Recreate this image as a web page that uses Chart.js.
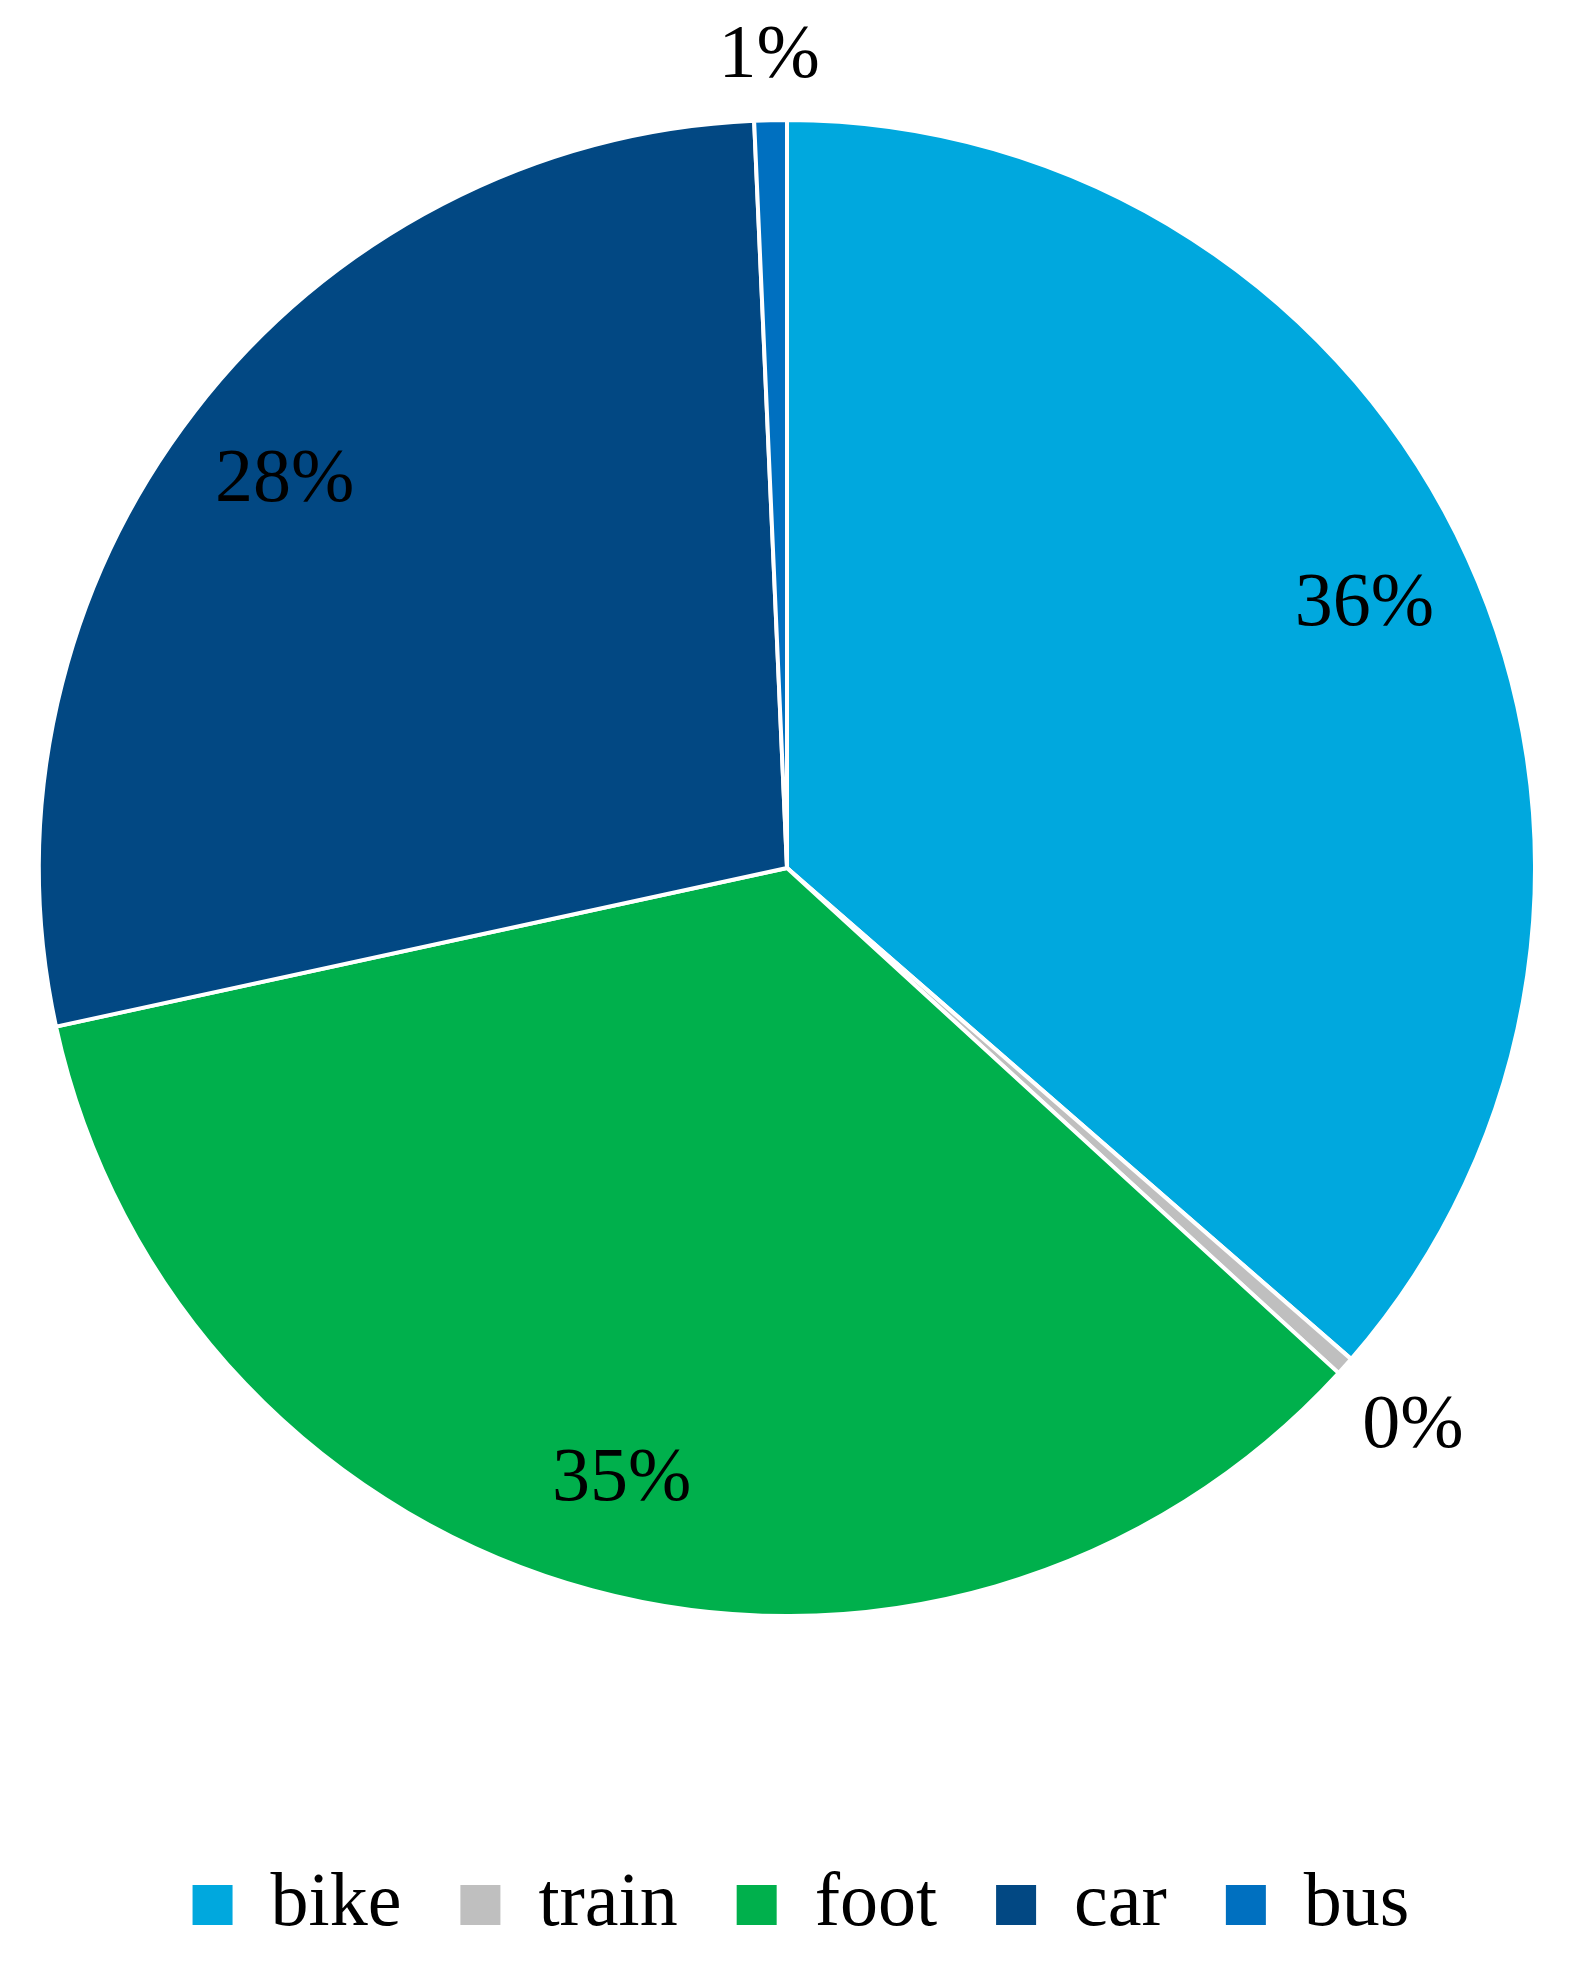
<!DOCTYPE html>
<html lang="en">
<head>
    <meta charset="UTF-8">
    <title>Travel mode share</title>
    <script src="https://cdn.jsdelivr.net/npm/chart.js"></script>
    <style>
        html, body { margin: 0; padding: 0; background: #ffffff; }
        #wrap { width: 1571px; height: 1970px; }
    </style>
</head>
<body>
    <div id="wrap">
        <canvas id="modeChart" width="1571" height="1970"></canvas>
    </div>

    <script>
        const modes = ['bike', 'train', 'foot', 'car', 'bus'];
        const shares = [36.4, 0.4, 34.8, 27.7, 0.7]; // percent
        const colors = ['#00A8DE', '#BFBFBF', '#00B04C', '#024883', '#0070C0'];

        const serif = '"Liberation Serif", "DejaVu Serif", serif';

        // percentage labels: big slices inside, slivers just outside the rim
        const sliceLabels = {
            id: 'sliceLabels',
            afterDatasetsDraw(chart) {
                const ctx = chart.ctx;
                const meta = chart.getDatasetMeta(0);
                const total = shares.reduce((a, b) => a + b, 0);
                ctx.save();
                ctx.font = '76px ' + serif;
                ctx.fillStyle = '#000000';
                ctx.textAlign = 'center';
                ctx.textBaseline = 'middle';
                meta.data.forEach((arc, i) => {
                    const p = arc.getProps(['x', 'y', 'startAngle', 'endAngle', 'outerRadius']);
                    const mid = (p.startAngle + p.endAngle) / 2;
                    const ux = Math.cos(mid), uy = Math.sin(mid);
                    const pct = shares[i] / total * 100;
                    const txt = Math.round(pct) + '%';
                    let d;
                    if (pct >= 5) {
                        d = p.outerRadius * 0.848;
                    } else {
                        // outside end: the text box sits just beyond the rim
                        const w = ctx.measureText(txt).width, h = 52;
                        d = p.outerRadius * 1.048 + Math.abs(ux) * w / 2 + Math.abs(uy) * h / 2;
                    }
                    ctx.fillText(txt, p.x + ux * d, p.y + uy * d);
                });
                ctx.restore();
            }
        };

        // push the legend row down towards the bottom of the page
        const legendShift = {
            id: 'legendShift',
            afterLayout(chart) {
                const lg = chart.legend;
                lg.top += 190; lg.bottom += 190;
                lg.left += 14; lg.right += 14;
            }
        };

        const ctx = document.getElementById('modeChart').getContext('2d');
        new Chart(ctx, {
            type: 'pie',
            data: {
                labels: modes,
                datasets: [{
                    data: shares,
                    backgroundColor: colors,
                    borderColor: '#ffffff',
                    borderWidth: 4
                }]
            },
            options: {
                responsive: false,
                animation: false,
                devicePixelRatio: 1,
                layout: { padding: { top: 118, left: 37, right: 34, bottom: 207 } },
                plugins: {
                    tooltip: { enabled: false },
                    legend: {
                        position: 'bottom',
                        labels: {
                            boxWidth: 40,
                            boxHeight: 40,
                            padding: 59,
                            color: '#000000',
                            font: { family: serif, size: 76 },
                            generateLabels: () => modes.map((m, i) => ({
                                text: m,
                                fillStyle: colors[i],
                                strokeStyle: colors[i],
                                lineWidth: 0,
                                index: i
                            }))
                        }
                    }
                }
            },
            plugins: [sliceLabels, legendShift]
        });
    </script>
</body>
</html>
